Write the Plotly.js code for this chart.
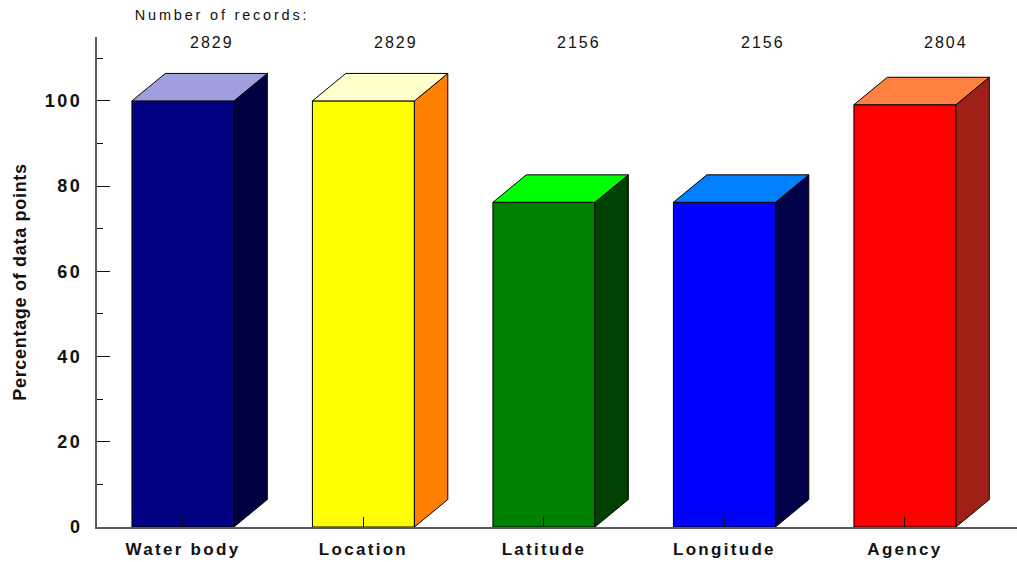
<!DOCTYPE html>
<html>
<head>
<meta charset="utf-8">
<script src="https://cdn.plot.ly/plotly-3.0.1.min.js"></script>
<style>
  html, body { margin: 0; padding: 0; background: #fff; }
  #chart { width: 1017px; height: 562px; }
  #chart .xtick text { letter-spacing: 2.3px; }
  #chart .ytick text { letter-spacing: 2.5px; }
  #chart text.ytitle { letter-spacing: 0.7px; }
  #chart .annotation[data-index="0"] .annotation-text { letter-spacing: 2.8px; }
  #chart .annotation-text { letter-spacing: 2px; }
</style>
</head>
<body>
<div id="chart"></div>
<script>
// ---- data ----
const categories = ["Water body", "Location", "Latitude", "Longitude", "Agency"];
const records = [2829, 2829, 2156, 2156, 2804];
const percentages = [100, 100, 76.2, 76.2, 99.1];
const frontColors = ["#000080", "#ffff00", "#008000", "#0000ff", "#ff0000"];
const sideColors  = ["#000040", "#ff8000", "#004000", "#000048", "#9e2016"];
const topColors   = ["#a0a0de", "#ffffcc", "#00ff00", "#0080ff", "#ff8040"];
const yTickVals = [0, 20, 40, 60, 80, 100];

// ---- geometry (style) ----
const barWidth = 0.565;
const depthX = 0.185;   // in category units
const depthY = 6.45;    // in percentage units
const hw = barWidth / 2;
const font = "Liberation Sans, Arial, Helvetica, sans-serif";

const idx = categories.map((_, i) => i);
const traces = [];

traces.push({
  type: "bar",
  x: idx,
  y: percentages,
  width: barWidth,
  marker: { color: frontColors, line: { color: "#000", width: 1 } },
  hoverinfo: "skip",
  showlegend: false
});

idx.forEach(i => {
  const v = percentages[i];
  const x0 = i - hw, x1 = i + hw;
  // side face
  traces.push({
    type: "scatter", mode: "lines", fill: "toself",
    x: [x1, x1 + depthX, x1 + depthX, x1, x1],
    y: [0, depthY, v + depthY, v, 0],
    fillcolor: sideColors[i],
    line: { color: "#000", width: 1 },
    hoverinfo: "skip", showlegend: false
  });
  // top face
  traces.push({
    type: "scatter", mode: "lines", fill: "toself",
    x: [x0, x1, x1 + depthX, x0 + depthX, x0],
    y: [v, v, v + depthY, v + depthY, v],
    fillcolor: topColors[i],
    line: { color: "#000", width: 1 },
    hoverinfo: "skip", showlegend: false
  });
});

const annotations = [{
  text: "Number of records:",
  xref: "x", yref: "paper", x: 0, y: 1.045, xshift: 39,
  xanchor: "center", yanchor: "middle", showarrow: false,
  font: { family: font, size: 14.5, color: "#111" }
}];
records.forEach((r, i) => {
  annotations.push({
    text: String(r),
    xref: "x", yref: "paper", x: i, y: 0.988, xshift: 29.5 + 3 * i,
    xanchor: "center", yanchor: "middle", showarrow: false,
    font: { family: font, size: 16, color: "#111" }
  });
});

const layout = {
  width: 1017, height: 562,
  margin: { l: 97, r: 0, t: 37, b: 35 },
  paper_bgcolor: "#fff", plot_bgcolor: "#fff",
  showlegend: false,
  xaxis: {
    range: [-0.476, 4.621],
    tickvals: idx, ticktext: categories,
    ticks: "inside", ticklen: 10, tickwidth: 1, tickcolor: "#111",
    showline: true, linecolor: "#5a5a5a", linewidth: 2,
    showgrid: false, zeroline: false, fixedrange: true,
    ticklabelstandoff: 6,
    tickfont: { family: font, size: 17, weight: "bold", color: "#111" }
  },
  yaxis: {
    range: [0, 115],
    tickvals: yTickVals,
    ticks: "inside", ticklen: 13, tickwidth: 1, tickcolor: "#111",
    minor: { dtick: 10, ticks: "inside", ticklen: 6, tickwidth: 1, tickcolor: "#111", showgrid: false },
    showline: true, linecolor: "#5a5a5a", linewidth: 2,
    showgrid: false, zeroline: false, fixedrange: true,
    ticklabelstandoff: 9,
    tickfont: { family: font, size: 18, weight: "bold", color: "#111" },
    title: {
      text: "Percentage of data points",
      standoff: 21,
      font: { family: font, size: 18, weight: "bold", color: "#111" }
    }
  },
  annotations: annotations
};

Plotly.newPlot("chart", traces, layout, { displayModeBar: false, staticPlot: true });
</script>
</body>
</html>
